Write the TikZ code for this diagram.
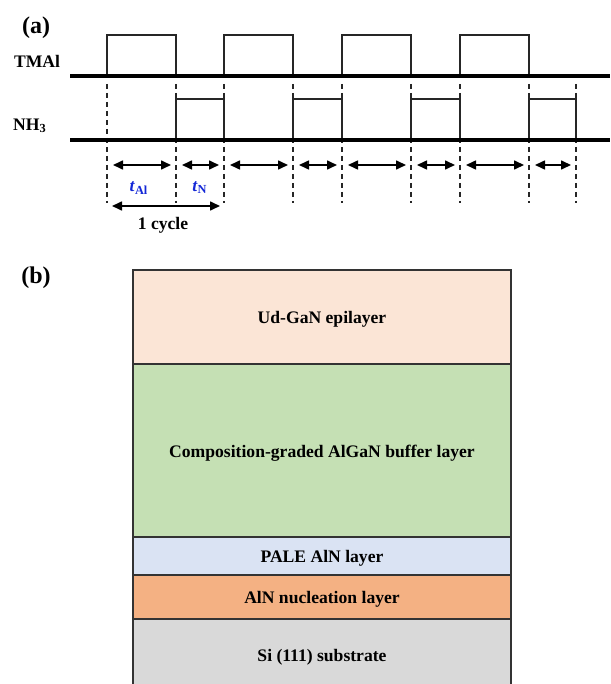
\documentclass[tikz,border=0pt]{standalone}
\usepackage{fontspec}
\setmainfont{Liberation Serif}
\usepackage{tikz}
\usetikzlibrary{arrows.meta,positioning}
\definecolor{epiPeach}{HTML}{FBE5D6}
\definecolor{bufGreen}{HTML}{C5E0B4}
\definecolor{paleBlue}{HTML}{DAE3F3}
\definecolor{nucOrange}{HTML}{F4B183}
\definecolor{subGray}{HTML}{D9D9D9}
\definecolor{timeBlue}{RGB}{20,40,215}

\begin{document}
\begin{tikzpicture}
  [
    x=0.5pt, y=-0.5pt,
    Bold/.style={font=\bfseries\fontsize{8.8}{10}\selectfont, inner sep=0pt},
    Panel/.style={font=\bfseries\fontsize{12}{14}\selectfont, inner sep=0pt},
    Base/.style={draw=black, line width=2pt},
    Pulse/.style={draw=black!85, line width=0.8pt},
    Guide/.style={draw=black!85, line width=0.6pt, dash pattern=on 2.5pt off 2pt},
    Span/.style={{Triangle[length=5pt, width=4.5pt]}-{Triangle[length=5pt, width=4.5pt]}, draw=black, line width=0.8pt},
    Layer/.style={rectangle, draw=black!80, line width=0.8pt, outer sep=0pt, inner sep=0pt, minimum width=189pt, text height=6.5pt, text depth=0pt, font=\bfseries\fontsize{8.8}{10}\selectfont}
  ]
  \useasboundingbox (0,0) rectangle (610,684);

  % Nodes
  \node[Panel] (pa) at (36,28) {(a)};
  \node[Bold] (tmal) at (37,61) {TMAl};
  \node[Bold] (nh3) at (30,126) {NH\textsubscript{3}};

  \foreach \x [count=\i] in {107,176,224,293,342,411,460,529,576}
    \coordinate (e\i) at (\x,84);
  \coordinate (tmalbase) at (70,76);
  \coordinate (tmalend) at (610,76);
  \coordinate (tmaltop) at (70,35);
  \coordinate (nhbase) at (70,140);
  \coordinate (nhend) at (610,140);
  \coordinate (nhtop) at (70,99);

  % Pulses
  \foreach \a/\b in {1/2,3/4,5/6,7/8}
    \draw[Pulse] (e\a |- tmalbase) |- (e\b |- tmaltop) -- (e\b |- tmalbase);
  \foreach \a/\b in {2/3,4/5,6/7,8/9}
    \draw[Pulse] (e\a |- nhbase) |- (e\b |- nhtop) -- (e\b |- nhbase);
  \foreach \i in {1,...,9}
    \draw[Guide] (e\i) -- ++(0,119);
  \draw[Base] (tmalbase) -- (tmalend);
  \draw[Base] (nhbase) -- (nhend);

  % Lines
  \foreach \a/\b in {1/2,2/3,3/4,4/5,5/6,6/7,7/8,8/9}
    \draw[Span] ([shift={(6,81)}]e\a) -- ([shift={(-5,81)}]e\b);
  \draw[Span] ([shift={(5,122)}]e1) -- ([shift={(-4,122)}]e3);

  \node[Bold, text=timeBlue] (tal) at (139,188) {\textit{t}\textsubscript{Al}};
  \node[Bold, text=timeBlue] (tn) at (200,188) {\textit{t}\textsubscript{N}};
  \node[Bold] (cycle) at (163,225) {1 cycle};

  % Layers
  \node[Panel] (pb) at (36,278) {(b)};
  \node[Layer, fill=epiPeach, minimum height=47pt, anchor=north] (udgan) at (322,270) {Ud-GaN epilayer};
  \node[Layer, fill=bufGreen, minimum height=86.5pt, below=0pt of udgan] (algan) {Composition-graded AlGaN buffer layer};
  \node[Layer, fill=paleBlue, minimum height=19pt, below=0pt of algan] (pale) {PALE AlN layer};
  \node[Layer, fill=nucOrange, minimum height=22pt, below=0pt of pale] (nuc) {AlN nucleation layer};
  \node[Layer, fill=subGray, minimum height=35.5pt, below=0pt of nuc] (si) {Si (111) substrate};

\end{tikzpicture}
\end{document}
